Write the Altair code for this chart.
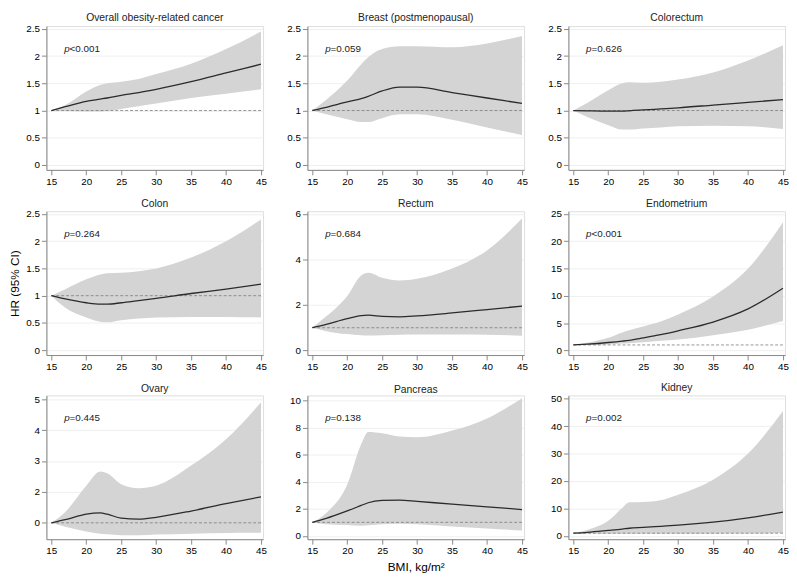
import altair as alt
import pandas as pd

# BMI grid (kg/m2)
bmi = [15, 17, 20, 22, 23, 25, 27.5, 30, 35, 40, 45]
x_ticks = [15, 20, 25, 30, 35, 40, 45]

titles = ["Overall obesity-related cancer", "Breast (postmenopausal)", "Colorectum",
          "Colon", "Rectum", "Endometrium", "Ovary", "Pancreas", "Kidney"]
p_texts = ["<0.001", "=0.059", "=0.626", "=0.264", "=0.684", "<0.001", "=0.445", "=0.138", "=0.002"]

overall_hr = [1.0, 1.07, 1.17, 1.21, 1.23, 1.28, 1.33, 1.39, 1.53, 1.69, 1.85]
overall_hi = [1.0, 1.10, 1.35, 1.47, 1.50, 1.53, 1.58, 1.67, 1.86, 2.13, 2.45]
overall_lo = [1.0, 0.99, 0.98, 0.98, 0.99, 1.03, 1.08, 1.13, 1.23, 1.31, 1.39]

breast_hr = [1.0, 1.06, 1.16, 1.22, 1.26, 1.36, 1.43, 1.43, 1.33, 1.23, 1.13]
breast_hi = [1.0, 1.20, 1.55, 1.85, 1.98, 2.13, 2.18, 2.18, 2.16, 2.23, 2.37]
breast_lo = [1.0, 0.93, 0.84, 0.79, 0.79, 0.86, 0.93, 0.93, 0.83, 0.69, 0.55]

colorectum_hr = [1.0, 0.995, 0.99, 0.99, 0.995, 1.01, 1.03, 1.05, 1.10, 1.15, 1.20]
colorectum_hi = [1.0, 1.14, 1.37, 1.50, 1.52, 1.51, 1.53, 1.57, 1.70, 1.92, 2.20]
colorectum_lo = [1.0, 0.88, 0.73, 0.65, 0.65, 0.67, 0.69, 0.71, 0.72, 0.71, 0.66]

colon_hr = [1.0, 0.94, 0.87, 0.845, 0.845, 0.87, 0.91, 0.95, 1.04, 1.12, 1.21]
colon_hi = [1.0, 1.12, 1.30, 1.39, 1.41, 1.42, 1.45, 1.50, 1.70, 2.00, 2.40]
colon_lo = [1.0, 0.78, 0.60, 0.52, 0.51, 0.55, 0.58, 0.60, 0.61, 0.61, 0.60]

rectum_hr = [1.0, 1.15, 1.40, 1.53, 1.55, 1.50, 1.48, 1.52, 1.65, 1.80, 1.95]
rectum_hi = [1.0, 1.50, 2.40, 3.30, 3.42, 3.20, 3.08, 3.15, 3.60, 4.40, 5.80]
rectum_lo = [1.0, 0.85, 0.72, 0.67, 0.66, 0.67, 0.69, 0.70, 0.70, 0.69, 0.65]

endometrium_hr = [1.0, 1.15, 1.45, 1.70, 1.85, 2.30, 2.90, 3.60, 5.20, 7.60, 11.4]
endometrium_hi = [1.0, 1.40, 2.30, 3.30, 3.70, 4.40, 5.30, 6.60, 9.90, 15.0, 23.5]
endometrium_lo = [1.0, 1.00, 1.10, 1.25, 1.32, 1.50, 1.75, 2.00, 2.80, 3.80, 5.40]

ovary_hr = [1.0, 1.10, 1.28, 1.32, 1.28, 1.15, 1.12, 1.18, 1.38, 1.62, 1.84]
ovary_hi = [1.0, 1.35, 2.20, 2.66, 2.60, 2.25, 2.12, 2.20, 2.85, 3.70, 4.90]
ovary_lo = [1.0, 0.87, 0.72, 0.65, 0.63, 0.60, 0.60, 0.62, 0.65, 0.67, 0.68]

pancreas_hr = [1.0, 1.30, 1.85, 2.25, 2.45, 2.62, 2.65, 2.55, 2.35, 2.15, 1.95]
pancreas_hi = [1.0, 1.70, 3.80, 6.80, 7.70, 7.60, 7.35, 7.30, 7.80, 8.70, 10.2]
pancreas_lo = [1.0, 0.85, 0.80, 0.75, 0.78, 0.85, 0.90, 0.85, 0.70, 0.55, 0.40]

kidney_hr = [1.0, 1.30, 2.00, 2.50, 2.80, 3.10, 3.50, 3.90, 5.00, 6.60, 8.70]
kidney_hi = [1.0, 2.20, 5.50, 10.2, 12.3, 12.4, 13.0, 15.0, 20.5, 30.0, 45.5]
kidney_lo = [1.0, 0.90, 0.80, 0.80, 0.80, 0.80, 0.80, 0.80, 0.80, 0.85, 1.10]

y_ticks_small = [0, 0.5, 1, 1.5, 2, 2.5]
y_ticks_rectum = [0, 2, 4, 6]
y_ticks_endo = [0, 5, 10, 15, 20, 25]
y_ticks_ovary = [1, 2, 3, 4, 5]
y_ticks_pancreas = [0, 2, 4, 6, 8, 10]
y_ticks_kidney = [0, 10, 20, 30, 40, 50]

FONT = "Liberation Sans"
W, H = 220, 146


def panel(title, hr, lo, hi, yticks, ydom, ptxt, ytitle=None, xtitle=None, label_expr=None):
    df = pd.DataFrame({"bmi": bmi, "hr": hr, "lo": lo, "hi": hi})
    ref = pd.DataFrame({"bmi": [15], "bmi2": [45], "hr": [1]})
    txt = pd.DataFrame({"t": [ptxt]})

    xscale = alt.Scale(domain=[14.3, 45.3], nice=False, zero=False)
    yscale = alt.Scale(domain=ydom, nice=False, zero=False)
    xaxis = alt.Axis(values=x_ticks, format="d", grid=False, title=xtitle,
                     titleFontWeight="normal", titleFontSize=12, titlePadding=6)
    yargs = dict(values=yticks, format="~r", grid=True, gridColor="#efefef",
                 title=ytitle, titleFontWeight="normal", titleFontSize=12,
                 titlePadding=3, minExtent=22)
    if label_expr:
        yargs["labelExpr"] = label_expr
    yaxis = alt.Axis(**yargs)

    band = alt.Chart(df).mark_area(color="#d4d4d4", interpolate="monotone").encode(
        x=alt.X("bmi:Q", scale=xscale, axis=xaxis),
        y=alt.Y("lo:Q", scale=yscale, axis=yaxis),
        y2="hi:Q",
    )
    rule = alt.Chart(ref).mark_rule(color="#7a7a7a", strokeDash=[3, 2], strokeWidth=0.8).encode(
        x=alt.X("bmi:Q", scale=xscale, axis=xaxis),
        x2="bmi2:Q",
        y=alt.Y("hr:Q", scale=yscale, axis=yaxis),
    )
    line = alt.Chart(df).mark_line(color="#2b2b2b", strokeWidth=1.3, interpolate="monotone").encode(
        x=alt.X("bmi:Q", scale=xscale, axis=xaxis),
        y=alt.Y("hr:Q", scale=yscale, axis=yaxis),
    )
    p1 = alt.Chart(txt).mark_text(align="left", baseline="middle", fontStyle="italic",
                                  fontSize=10, font=FONT, color="#222").encode(
        x=alt.value(18), y=alt.value(23), text=alt.value("p"))
    p2 = alt.Chart(txt).mark_text(align="left", baseline="middle",
                                  fontSize=10, font=FONT, color="#222").encode(
        x=alt.value(23.5), y=alt.value(23), text="t:N")
    return alt.layer(band, rule, line, p1, p2).properties(
        width=W, height=H,
        title=alt.TitleParams(title, fontSize=10.5, fontWeight="normal", font=FONT,
                              color="#222", offset=0),
    )


panels = [
    panel(titles[0], overall_hr, overall_lo, overall_hi, y_ticks_small, [-0.09, 2.55], p_texts[0]),
    panel(titles[1], breast_hr, breast_lo, breast_hi, y_ticks_small, [-0.09, 2.55], p_texts[1]),
    panel(titles[2], colorectum_hr, colorectum_lo, colorectum_hi, y_ticks_small, [-0.09, 2.55], p_texts[2]),
    panel(titles[3], colon_hr, colon_lo, colon_hi, y_ticks_small, [-0.09, 2.55], p_texts[3],
          ytitle="HR (95% CI)"),
    panel(titles[4], rectum_hr, rectum_lo, rectum_hi, y_ticks_rectum, [-0.2, 6.12], p_texts[4]),
    panel(titles[5], endometrium_hr, endometrium_lo, endometrium_hi, y_ticks_endo, [-0.85, 25.5], p_texts[5]),
    panel(titles[6], ovary_hr, ovary_lo, ovary_hi, y_ticks_ovary, [0.47, 5.12], p_texts[6],
          label_expr="datum.value == 1 ? '0' : datum.label"),
    panel(titles[7], pancreas_hr, pancreas_lo, pancreas_hi, y_ticks_pancreas, [-0.25, 10.4], p_texts[7],
          xtitle="BMI, kg/m²"),
    panel(titles[8], kidney_hr, kidney_lo, kidney_hi, y_ticks_kidney, [-1.2, 51.2], p_texts[8]),
]

chart = alt.concat(*panels, columns=3, spacing={"row": 10, "column": 18}).configure_axis(
    domainColor="#444", tickColor="#444", labelColor="#222", titleColor="#222",
    labelFont=FONT, titleFont=FONT, labelFontSize=12, tickSize=4, labelPadding=2,
    domainWidth=1, tickWidth=1,
).configure_view(stroke="transparent").configure(background="white", padding=0)

chart.save("out.html", embed_options={"renderer": "svg", "actions": False})
